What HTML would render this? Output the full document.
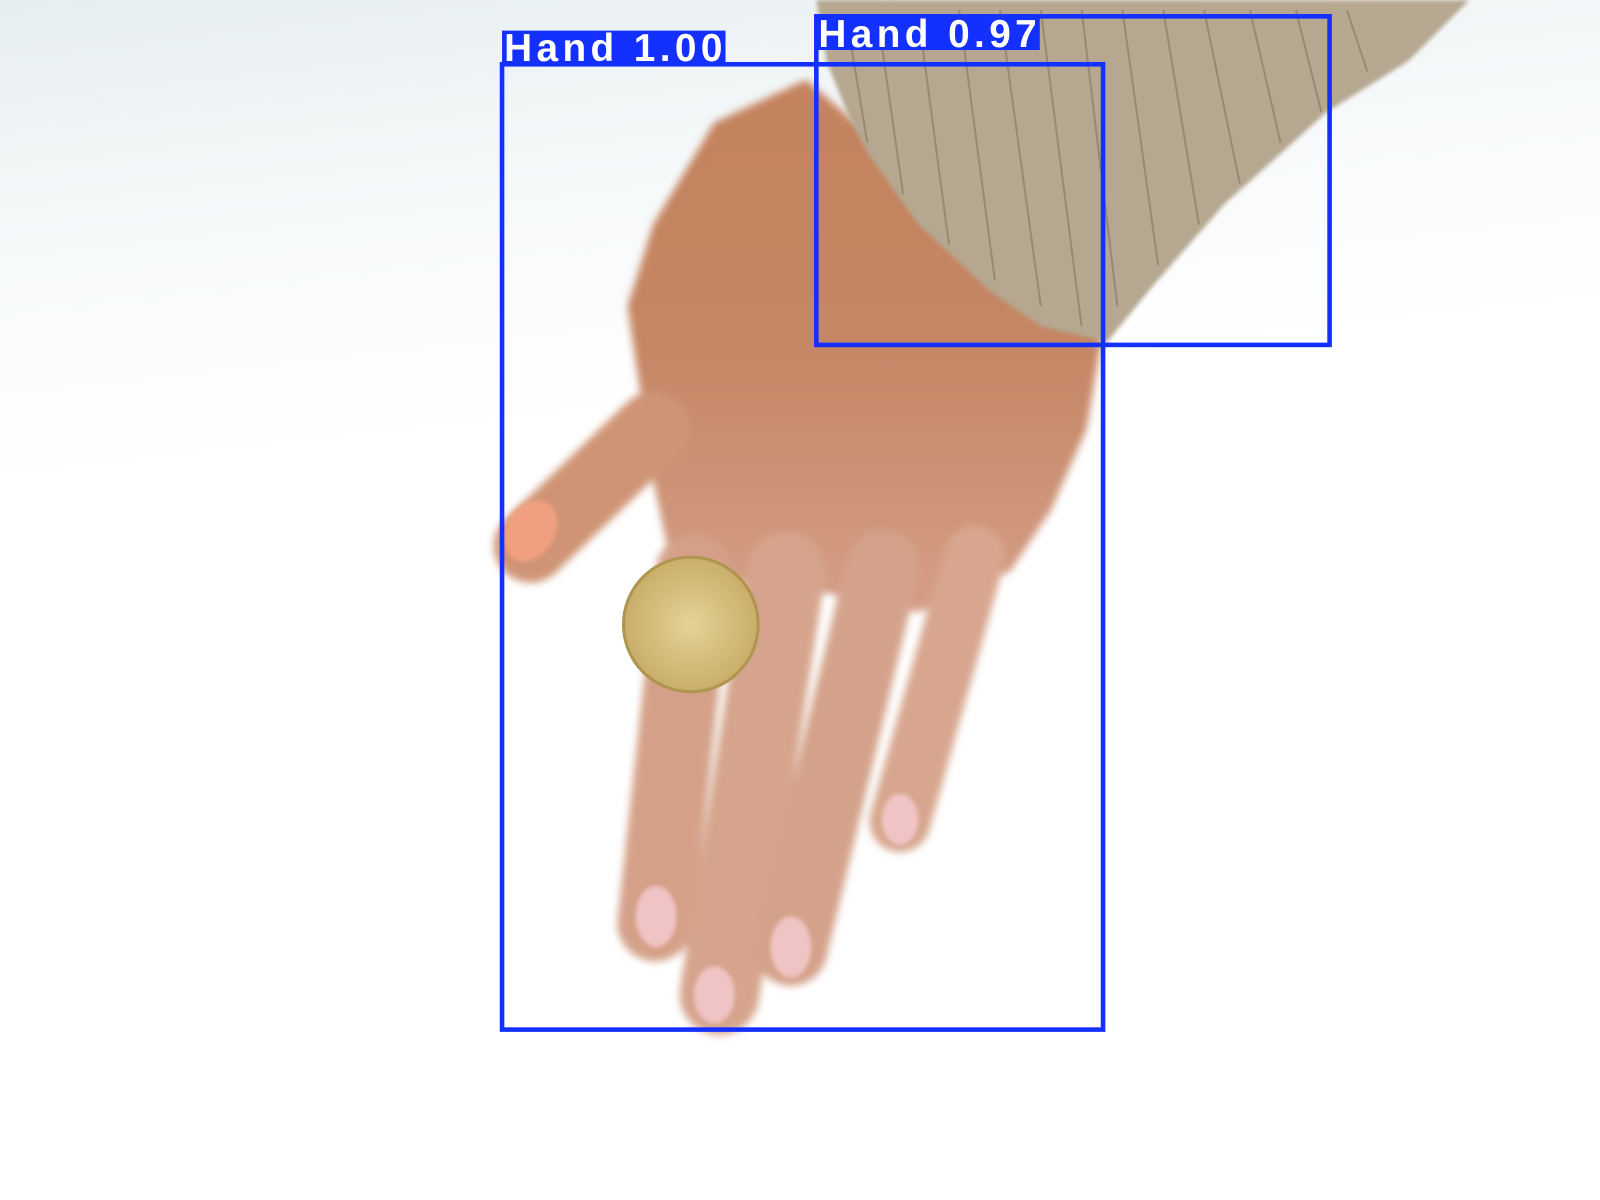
<!DOCTYPE html>
<html><head><meta charset="utf-8"><style>
html,body{margin:0;padding:0;background:#fff;}
svg{display:block;}
</style></head><body>
<svg id="scene" width="1600" height="1200" viewBox="0 0 1568 1176" preserveAspectRatio="none" xmlns="http://www.w3.org/2000/svg">
<defs>
<linearGradient id="bg" x1="0" y1="0" x2="0.15" y2="1"><stop offset="0" stop-color="#e6eef0"/><stop offset="0.2" stop-color="#f6f9fa"/><stop offset="0.4" stop-color="#ffffff"/></linearGradient>
<linearGradient id="skin" x1="0" y1="0" x2="0" y2="1"><stop offset="0" stop-color="#c4825d"/><stop offset="0.5" stop-color="#c58664"/><stop offset="1" stop-color="#d49e86"/></linearGradient>
<radialGradient id="coin"><stop offset="0" stop-color="#e4d398"/><stop offset="1" stop-color="#c9ae68"/></radialGradient>
<filter id="blur"><feGaussianBlur stdDeviation="4"/></filter>
<filter id="blur2"><feGaussianBlur stdDeviation="2"/></filter>
</defs>
<rect x="0" y="0" width="1568" height="1176" fill="url(#bg)"/>
<g filter="url(#blur)">
<polygon points="790,78 1080,330 1065,420 1030,500 990,560 900,600 780,575 660,565 640,470 615,300 640,220 700,120" fill="url(#skin)"/>
<line x1="640" y1="420" x2="520" y2="535" stroke="#cf9474" stroke-width="72" stroke-linecap="round"/>
<line x1="680" y1="560" x2="642" y2="905" stroke="#d4a088" stroke-width="74" stroke-linecap="round"/>
<line x1="770" y1="560" x2="705" y2="975" stroke="#d6a48c" stroke-width="78" stroke-linecap="round"/>
<line x1="865" y1="555" x2="775" y2="930" stroke="#d4a28a" stroke-width="72" stroke-linecap="round"/>
<line x1="955" y1="545" x2="882" y2="805" stroke="#d8a68e" stroke-width="60" stroke-linecap="round"/>
</g>
<g filter="url(#blur2)" fill="#f0c4c4">
<ellipse cx="520" cy="520" rx="24" ry="32" fill="#f0a080" transform="rotate(30 520 520)"/>
<ellipse cx="643" cy="898" rx="20" ry="30" />
<ellipse cx="700" cy="975" rx="20" ry="28" />
<ellipse cx="775" cy="928" rx="20" ry="30" />
<ellipse cx="882" cy="803" rx="18" ry="25" />
</g>
<path filter="url(#blur2)" d="M800,0 L1440,0 L1380,60 L1300,110 L1200,200 L1130,280 L1085,335 L1020,320 L970,285 L900,220 L850,150 L830,110 L810,60 Z" fill="#b5a790"/>
<g stroke="#7f735f" stroke-width="2" opacity="0.55" fill="none">
<path d="M830,20 L850,140"/><path d="M860,15 L885,190"/><path d="M900,15 L930,240"/><path d="M940,10 L975,275"/><path d="M980,10 L1020,300"/><path d="M1020,10 L1060,320"/><path d="M1060,10 L1095,300"/><path d="M1100,10 L1135,260"/><path d="M1140,10 L1175,220"/><path d="M1180,10 L1215,180"/><path d="M1225,10 L1255,140"/><path d="M1270,10 L1295,110"/><path d="M1320,10 L1340,70"/>
</g>
<circle cx="677" cy="612" r="66" fill="url(#coin)" stroke="#b09550" stroke-width="3"/>
<g id="boxes"></g>
</svg>
<script>
const labels = ["Hand", "Hand"];
const scores = [1.00, 0.97];
const boxX1 = [492, 800];
const boxY1 = [63, 16];
const boxX2 = [1081, 1303];
const boxY2 = [1009, 338];
const NS = "http://www.w3.org/2000/svg";
const g = document.getElementById("boxes");
for (let i = 0; i < labels.length; i++) {
  const r = document.createElementNS(NS, "rect");
  r.setAttribute("x", boxX1[i]); r.setAttribute("y", boxY1[i]);
  r.setAttribute("width", boxX2[i] - boxX1[i]); r.setAttribute("height", boxY2[i] - boxY1[i]);
  r.setAttribute("fill", "none"); r.setAttribute("stroke", "#1430ff"); r.setAttribute("stroke-width", "4.5");
  
  
  g.appendChild(r);
  const top = boxY1[i] - 33 < 0 ? boxY1[i] : boxY1[i] - 33;
  const lb = document.createElementNS(NS, "rect");
  lb.setAttribute("x", boxX1[i]); lb.setAttribute("y", top);
  lb.setAttribute("width", 219); lb.setAttribute("height", 33);
  lb.setAttribute("fill", "#1430ff");
  
  
  g.appendChild(lb);
  const t = document.createElementNS(NS, "text");
  t.setAttribute("x", boxX1[i] + 2); t.setAttribute("y", top + 30);
  t.setAttribute("fill", "#ffffff"); t.setAttribute("font-size", "38");
  t.setAttribute("font-weight", "bold");
  t.setAttribute("font-family", "Liberation Sans, sans-serif");
  t.setAttribute("textLength", "214");
  t.textContent = labels[i] + "  " + scores[i].toFixed(2);
  
  
  g.appendChild(t);
}
</script>
</body></html>
